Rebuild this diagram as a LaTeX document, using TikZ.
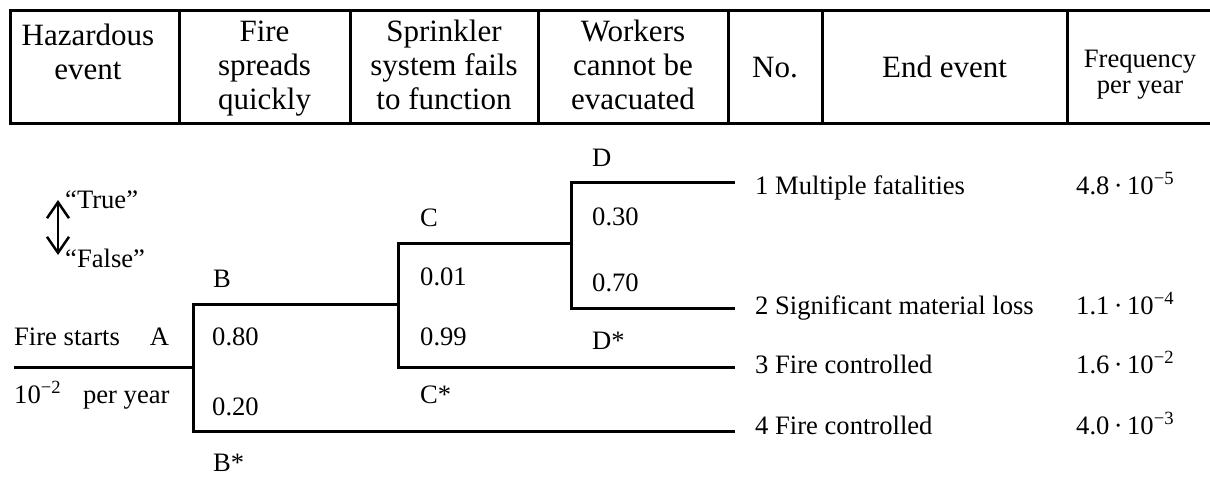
\documentclass[tikz,border=0pt]{standalone}
\usepackage{fontspec}
\setmainfont{Liberation Serif}
\usetikzlibrary{arrows.meta}
\newcommand\tenpow[1]{10\textsuperscript{−#1}}
\begin{document}
\begin{tikzpicture}[x=1pt,y=-1pt,
  rule/.style={line width=3pt},
  branch/.style={line width=3pt, line join=miter},
  hd/.style={font=\fontsize{31}{34}\selectfont, anchor=base, inner sep=0pt},
  hds/.style={font=\fontsize{26.6}{30}\selectfont, anchor=base, inner sep=0pt},
  tx/.style={font=\fontsize{26.6}{30}\selectfont, anchor=base west, inner sep=0pt},
  barb/.style={line width=2.5pt, {Straight Barb[length=16pt,width=22pt]}-{Straight Barb[length=16pt,width=22pt]}}]
\useasboundingbox (0,0) rectangle (1210,477);

% ---- header table ----
\draw[rule] (1215,10) -- (10,10) -- (10,123) -- (1215,123);
\foreach \x in {179,350,538,728,822,1067}
  \draw[rule] (\x,10) -- (\x,123);

\node[hd] (h1a) at (88,45) {Hazardous};
\node[hd] (h1b) at (88,79) {event};
\node[hd] (h2a) at (264.5,41) {Fire};
\node[hd] (h2b) at (264.5,75) {spreads};
\node[hd] (h2c) at (264.5,109) {quickly};
\node[hd] (h3a) at (444,41) {Sprinkler};
\node[hd] (h3b) at (444,75) {system fails};
\node[hd] (h3c) at (444,109) {to function};
\node[hd] (h4a) at (633,41) {Workers};
\node[hd] (h4b) at (633,75) {cannot be};
\node[hd] (h4c) at (633,109) {evacuated};
\node[hd] (h5) at (775,77) {No.};
\node[hd] (h6) at (944.5,77) {End event};
\node[hds] (h7a) at (1140,67) {Frequency};
\node[hds] (h7b) at (1140,93) {per year};

% ---- legend ----
\coordinate (up) at (58,200);
\coordinate (down) at (58,255);
\draw[barb] (up) -- (down);
\node[tx] (true) at (65,208) {“True”};
\node[tx] (false) at (65,267) {“False”};

% ---- event tree ----
\coordinate (a0) at (14,367);
\coordinate (b)  at (193,367);
\coordinate (bt) at (193,304);
\coordinate (bb) at (193,431);
\coordinate (c)  at (398,304);
\coordinate (ct) at (398,243);
\coordinate (cb) at (398,367);
\coordinate (d)  at (571,243);
\coordinate (dt) at (571,182);
\coordinate (db) at (571,308);
\coordinate (e1) at (735,182);
\coordinate (e2) at (735,308);
\coordinate (e3) at (735,367);
\coordinate (e4) at (735,431);

\draw[branch] (a0) -- (b);
\draw[branch] (c) -- (bt) -- (bb) -- (e4);
\draw[branch] (d) -- (ct) -- (cb) -- (e3);
\draw[branch] (e1) -- (dt) -- (db) -- (e2);

% initiating event
\node[tx] (fire) at (14,345) {Fire starts\hspace{30pt}A};
\node[tx] (rate) at (14,403) {\tenpow{2}\hspace{22pt}per year};

% branch labels and probabilities
\node[tx] (lb)  at (213,287) {B};
\node[tx] (pb1) at (212,345) {0.80};
\node[tx] (pb2) at (212,415) {0.20};
\node[tx] (lbs) at (213,471) {B*};

\node[tx] (lc)  at (420,226) {C};
\node[tx] (pc1) at (420,285) {0.01};
\node[tx] (pc2) at (420,345) {0.99};
\node[tx] (lcs) at (420,403) {C*};

\node[tx] (ld)  at (592,166) {D};
\node[tx] (pd1) at (592,225) {0.30};
\node[tx] (pd2) at (592,291) {0.70};
\node[tx] (lds) at (592,349) {D*};

% end events
\node[tx] (n1) at (755,194) {1 Multiple fatalities};
\node[tx] (n2) at (755,314) {2 Significant material loss};
\node[tx] (n3) at (755,373) {3 Fire controlled};
\node[tx] (n4) at (755,434) {4 Fire controlled};

% frequencies
\node[tx] (f1) at (1076,194) {4.8\,·\,\tenpow{5}};
\node[tx] (f2) at (1076,314) {1.1\,·\,\tenpow{4}};
\node[tx] (f3) at (1076,373) {1.6\,·\,\tenpow{2}};
\node[tx] (f4) at (1076,434) {4.0\,·\,\tenpow{3}};
\end{tikzpicture}
\end{document}
